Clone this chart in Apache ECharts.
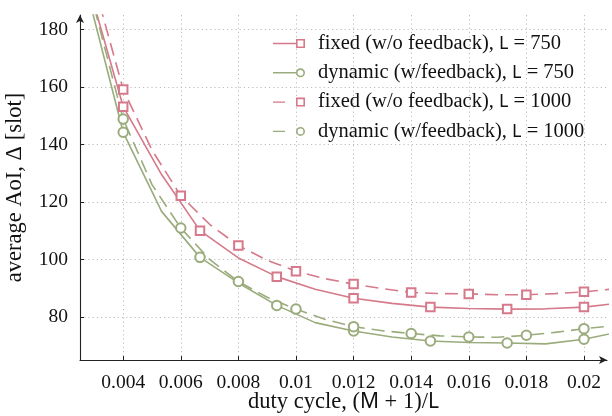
<!DOCTYPE html>
<html>
<head>
<meta charset="utf-8">
<title>AoI vs duty cycle</title>
<script src="https://cdn.jsdelivr.net/npm/echarts@6/dist/echarts.min.js"></script>
<style>
  html, body { margin: 0; padding: 0; background: #fff; }
  #main { width: 612px; height: 416px; }
</style>
</head>
<body>
<div id="main"></div>
<script>
// duty cycle (M+1)/L, one point per M
var duty750 = [0.002667, 0.004, 0.005333, 0.006667, 0.008, 0.009333, 0.010667, 0.012,
               0.013333, 0.014667, 0.016, 0.017333, 0.018667, 0.02, 0.021333];
var fixed750 = [200.0, 153.1, 129.5, 110.0, 100.5, 94.0, 89.6, 86.5,
                84.7, 83.4, 82.9, 82.7, 82.8, 83.4, 84.9];
var dynamic750 = [196.4, 144.2, 116.7, 100.7, 91.8, 84.0, 78.0, 75.1,
                  73.0, 71.6, 71.1, 70.9, 70.6, 72.2, 75.0];

var duty1000 = [0.003, 0.004, 0.005, 0.006, 0.007, 0.008, 0.009, 0.01, 0.011, 0.012,
                0.013, 0.014, 0.015, 0.016, 0.017, 0.018, 0.019, 0.02, 0.021];
var fixed1000 = [195.4, 159.1, 138.0, 122.1, 112.2, 104.8, 99.7, 95.9, 93.3, 91.4,
                 89.8, 88.5, 88.1, 88.0, 87.7, 87.7, 88.1, 88.7, 89.7];
var dynamic1000 = [187.5, 148.8, 126.0, 110.9, 100.0, 92.3, 86.8, 82.7, 79.2, 76.6,
                   75.2, 74.2, 73.4, 73.0, 72.9, 73.6, 74.6, 75.9, 76.9];

var seriesNames = [
  'fixed (w/o feedback), L = 750',
  'dynamic (w/feedback), L = 750',
  'fixed (w/o feedback), L = 1000',
  'dynamic (w/feedback), L = 1000'
];

var red = '#d6798a', green = '#9aab7c';
var serif = 'Liberation Serif';
var sans = 'Noto Sans';

// markers sit on every second point (odd index)
function points(xs, ys) {
  return xs.map(function (x, i) {
    var d = { value: [x, ys[i]] };
    if (i % 2 === 0) d.symbol = 'none';
    return d;
  });
}

function lineSeries(name, xs, ys, color, symbol, dashed) {
  return {
    name: name,
    type: 'line',
    data: points(xs, ys),
    symbol: symbol,
    symbolSize: symbol === 'emptyRect' ? 8.5 : 9.5,
    showAllSymbol: true,
    clip: true,
    lineStyle: { color: color, width: 1.6, type: dashed ? [13, 7] : 'solid' },
    itemStyle: { color: color, borderWidth: 1.8 },
    emphasis: { disabled: true },
    animation: false
  };
}

var iconSquare = 'path://M0,3.8L23,3.8L23,5.2L0,5.2Z M23,0L32,0L32,9L23,9Z M24.6,1.6L24.6,7.4L30.4,7.4L30.4,1.6Z';
var iconCircle = 'path://M0,3.8L23,3.8L23,5.2L0,5.2Z M23,4.5A4.5,4.5,0,1,1,32,4.5A4.5,4.5,0,1,1,23,4.5Z M24.6,4.5A2.9,2.9,0,1,0,30.4,4.5A2.9,2.9,0,1,0,24.6,4.5Z';
var iconSquareDash = 'path://M0,3.8L12,3.8L12,5.2L0,5.2Z M23,0L32,0L32,9L23,9Z M24.6,1.6L24.6,7.4L30.4,7.4L30.4,1.6Z';
var iconCircleDash = 'path://M0,3.8L12,3.8L12,5.2L0,5.2Z M23,4.5A4.5,4.5,0,1,1,32,4.5A4.5,4.5,0,1,1,23,4.5Z M24.6,4.5A2.9,2.9,0,1,0,30.4,4.5A2.9,2.9,0,1,0,24.6,4.5Z';

var myChart = echarts.init(document.getElementById('main'), null, { renderer: 'canvas' });

var gridLine = { show: true, showMinLine: false, showMaxLine: false,
                 lineStyle: { color: '#bdbdbd', width: 1, type: [1.2, 3] } };

var option = {
  backgroundColor: '#fff',
  animation: false,
  grid: { left: 80, right: 5, top: 15, bottom: 56, containLabel: false, outerBoundsMode: 'none' },
  legend: {
    orient: 'vertical',
    left: 273,
    top: 33,
    padding: 0,
    itemWidth: 32,
    itemHeight: 9,
    itemGap: 8.3,
    selectedMode: false,
    itemStyle: { borderWidth: 0 },
    textStyle: {
      fontFamily: serif, fontSize: 20.5, color: '#111', lineHeight: 20,
      padding: [0, 0, 0, 8],
      rich: { s: { fontFamily: sans, fontSize: 18, color: '#111', lineHeight: 20 } }
    },
    formatter: function (name) {
      return name.replace(', L =', ', {s|L} =');
    },
    data: [
      { name: seriesNames[0], icon: iconSquare, itemStyle: { color: red } },
      { name: seriesNames[1], icon: iconCircle, itemStyle: { color: green } },
      { name: seriesNames[2], icon: iconSquareDash, itemStyle: { color: red } },
      { name: seriesNames[3], icon: iconCircleDash, itemStyle: { color: green } }
    ]
  },
  xAxis: {
    type: 'value',
    min: 0.0025,
    max: 0.0208,
    splitNumber: 9,
    minInterval: 0.002,
    maxInterval: 0.002,
    name: 'duty cycle, ({s|M} + 1)/{s|L}',
    nameLocation: 'middle',
    nameGap: 31,
    nameMoveOverlap: false,
    nameTextStyle: {
      fontFamily: serif, fontSize: 22.5, color: '#111',
      rich: { s: { fontFamily: sans, fontSize: 21, color: '#111' } }
    },
    axisLine: { show: true, symbol: ['none', 'arrow'], symbolSize: [6, 8],
                lineStyle: { color: '#222', width: 1.1 } },
    axisTick: { show: true, inside: true, length: 4, lineStyle: { color: '#222' } },
    axisLabel: { showMinLabel: false, showMaxLabel: false, margin: 13,
                 fontFamily: serif, fontSize: 19.5, color: '#111' },
    splitLine: gridLine
  },
  yAxis: {
    type: 'value',
    min: 65,
    max: 185,
    minInterval: 20,
    maxInterval: 20,
    name: 'average AoI, Δ [slot]',
    nameLocation: 'middle',
    nameGap: 53,
    nameMoveOverlap: false,
    nameTextStyle: { fontFamily: serif, fontSize: 22.5, color: '#111' },
    axisLine: { show: true, symbol: ['none', 'arrow'], symbolSize: [6, 8],
                lineStyle: { color: '#222', width: 1.1 } },
    axisTick: { show: true, inside: true, length: 4, lineStyle: { color: '#222' } },
    axisLabel: { showMinLabel: false, showMaxLabel: false, margin: 12,
                 fontFamily: serif, fontSize: 19.5, color: '#111' },
    splitLine: gridLine
  },
  series: [
    lineSeries(seriesNames[0], duty750, fixed750, red, 'emptyRect', false),
    lineSeries(seriesNames[1], duty750, dynamic750, green, 'emptyCircle', false),
    lineSeries(seriesNames[2], duty1000, fixed1000, red, 'emptyRect', true),
    lineSeries(seriesNames[3], duty1000, dynamic1000, green, 'emptyCircle', true)
  ]
};

myChart.setOption(option);
</script>
</body>
</html>
